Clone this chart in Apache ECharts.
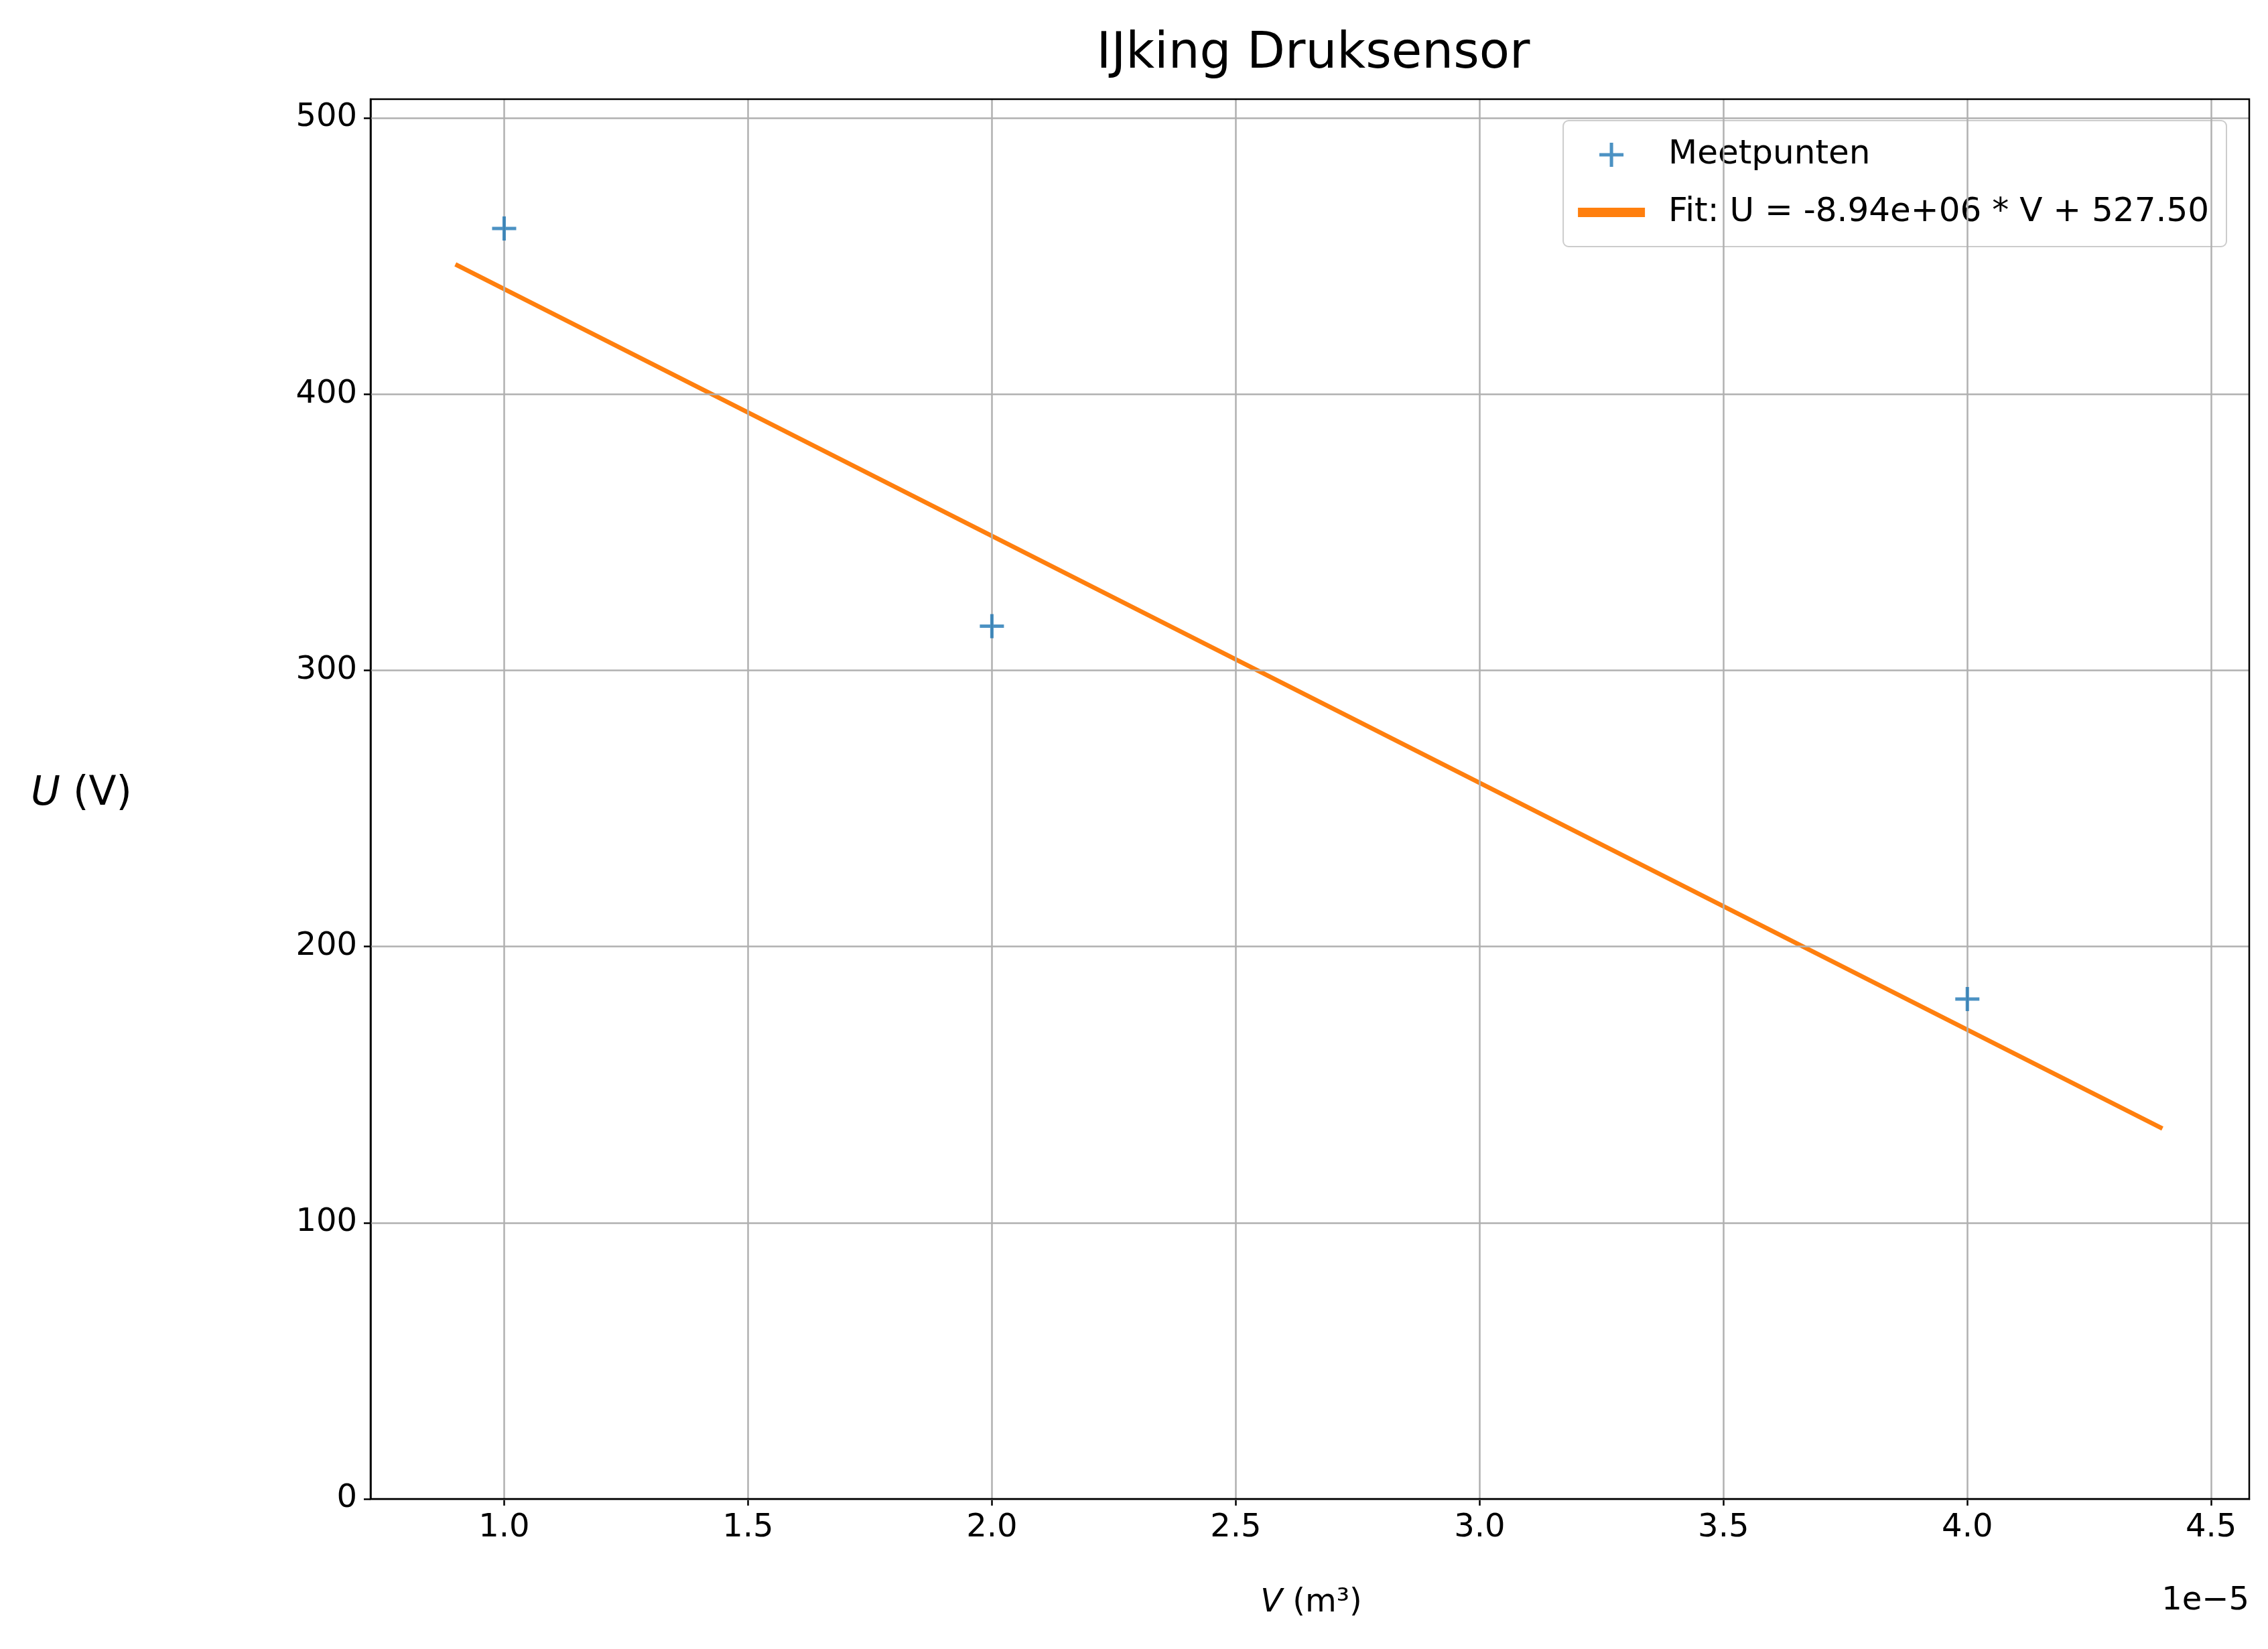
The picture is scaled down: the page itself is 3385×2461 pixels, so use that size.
<!DOCTYPE html>
<html><head><meta charset="utf-8">
<script src="https://cdn.jsdelivr.net/npm/echarts@6/dist/echarts.min.js"></script>
<style>html,body{margin:0;background:#fff}#main{width:3385px;height:2461px}</style>
</head><body><div id="main"></div>
<script>
// data (V in units of 1e-5 m3)
var measX = [1.0, 2.0, 4.0];
var measY = [460, 316, 181];
var fitX = [0.9, 4.4];
var fitY = [447.0, 134.1];
var xTicks = [1.0, 1.5, 2.0, 2.5, 3.0, 3.5, 4.0, 4.5];
var yTicks = [0, 100, 200, 300, 400, 500];

var myChart = echarts.init(document.getElementById('main'));
var font = 'DejaVu Sans';
var grid = [];
xTicks.forEach(function (v) { grid.push({xAxis: v}); });
yTicks.forEach(function (v) { grid.push({yAxis: v}); });
var plus = 'path://M4.3,0H5.7V10H4.3ZM0,4.3H10V5.7H0Z';

var option = {
    backgroundColor: '#fff',
    animation: false,
    textStyle: {fontFamily: font},
    title: {text: 'IJking Druksensor', left: 1955, top: 40, textAlign: 'center',
        textStyle: {fontFamily: font, fontWeight: 'normal', fontSize: 74, color: '#000'}},
    grid: {left: 553, right: 28, top: 148, bottom: 224},
    legend: {
        orient: 'vertical', right: 62, top: 180, padding: [26, 26, 26, 22],
        itemGap: 36, itemWidth: 100, itemHeight: 36,
        backgroundColor: '#fff', borderColor: '#ccc', borderWidth: 2, borderRadius: 8,
        textStyle: {fontFamily: font, fontSize: 50, color: '#000', padding: [0, 0, 0, 30]},
        data: [
            {name: 'Meetpunten', icon: 'path://M0,0H10V10H0ZM4.3,0H5.7V10H4.3Z', itemStyle: {color: '#1f77b4'}},
            {name: 'Fit: U = -8.94e+06 * V + 527.50', icon: 'path://M0,4.3H10V5.7H0Z'}
        ]
    },
    xAxis: {
        type: 'value', min: 0.726, max: 4.578,
        axisLine: {show: true, onZero: false, lineStyle: {color: '#000', width: 2.5}},
        axisTick: {show: true, customValues: xTicks, length: 10, lineStyle: {color: '#000', width: 2.5}},
        axisLabel: {customValues: xTicks, fontSize: 48, color: '#000', margin: 20,
            formatter: function (v) { return v.toFixed(1); }},
        splitLine: {show: false}
    },
    yAxis: {
        type: 'value', min: 0, max: 506.8,
        axisLine: {show: true, lineStyle: {color: '#000', width: 2.5}},
        axisTick: {show: true, customValues: yTicks, length: 10, lineStyle: {color: '#000', width: 2.5}},
        axisLabel: {customValues: yTicks, fontSize: 48, color: '#000', margin: 20},
        splitLine: {show: false}
    },
    graphic: [
        {type: 'rect', shape: {x: 553, y: 148, width: 2804, height: 2089}, silent: true, z: 10,
            style: {fill: 'none', stroke: '#000', lineWidth: 2.5}},
        {type: 'text', left: 46, top: 1155, style: {text: '{i|U} (V)', fontSize: 60, fontFamily: font, fill: '#000',
            rich: {i: {fontStyle: 'italic', fontSize: 60, fontFamily: font}}}},
        {type: 'text', x: 1957, y: 2393, style: {text: '{i|V} (m³)', fontSize: 48, fontFamily: font, fill: '#000',
            align: 'center', verticalAlign: 'middle',
            rich: {i: {fontStyle: 'italic', fontSize: 48, fontFamily: font}}}},
        {type: 'text', x: 3357, y: 2390, style: {text: '1e\u22125', fontSize: 48, fontFamily: font, fill: '#000',
            align: 'right', verticalAlign: 'middle'}}
    ],
    series: [
        {type: 'line', name: 'grid', data: [], silent: true, z: 1,
            markLine: {silent: true, symbol: 'none', label: {show: false},
                lineStyle: {color: '#b0b0b0', width: 2.5, type: 'solid'}, data: grid}},
        {type: 'scatter', name: 'Meetpunten', z: 5,
            symbol: plus, symbolSize: 36,
            itemStyle: {color: '#1f77b4'},
            data: measX.map(function (x, i) { return [x, measY[i]]; })},
        {type: 'line', name: 'Fit: U = -8.94e+06 * V + 527.50', z: 4, symbol: 'none',
            lineStyle: {color: '#ff7f0e', width: 6.5}, itemStyle: {color: '#ff7f0e'},
            data: fitX.map(function (x, i) { return [x, fitY[i]]; })}
    ]
};
option.legend.data[0].icon = 'path://M4.3,0H5.7V10H4.3ZM0,4.3H10V5.7H0Z';
option.legend.data[0].itemStyle = undefined;
myChart.setOption(option);
</script></body></html>
